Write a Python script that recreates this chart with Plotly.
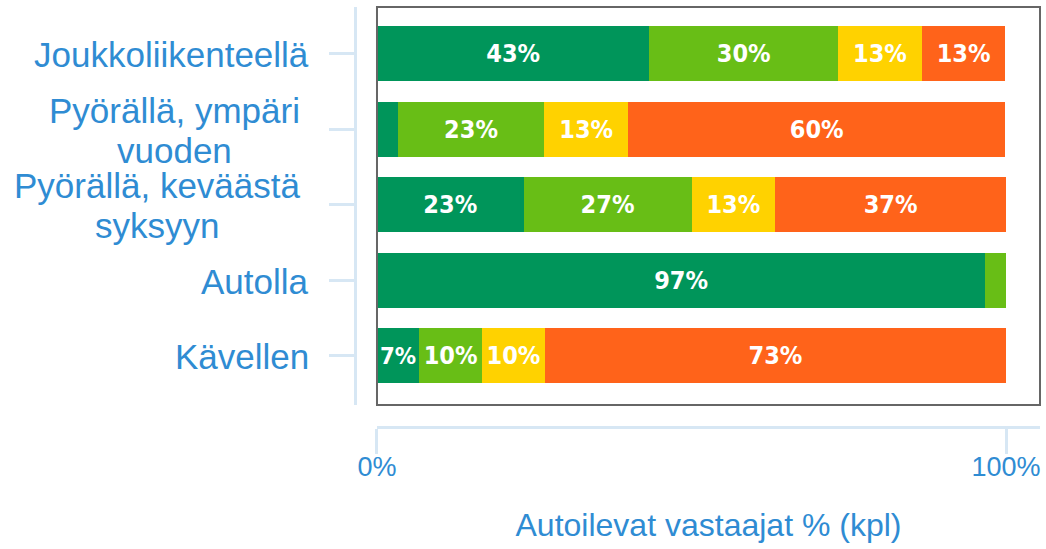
import plotly.graph_objects as go

categories = [
    "Joukkoliikenteellä",
    "Pyörällä, ympäri vuoden",
    "Pyörällä, keväästä syksyyn",
    "Autolla",
    "Kävellen",
]
# kategorian nimi riveittäin
category_lines = [
    ["Joukkoliikenteellä"],
    ["Pyörällä, ympäri", "vuoden"],
    ["Pyörällä, keväästä", "syksyyn"],
    ["Autolla"],
    ["Kävellen"],
]

# osuudet (%), n = 30
series_names = ["Aina", "Usein", "Joskus", "Ei koskaan"]
series_values = [
    [43.3, 3.3, 23.3, 96.7, 6.7],
    [30.0, 23.3, 26.7, 3.3, 10.0],
    [13.3, 13.3, 13.3, 0.0, 10.0],
    [13.3, 60.0, 36.7, 0.0, 73.3],
]
colors = ["#00955A", "#68BE16", "#FFD200", "#FF631A"]

x_tickvals = [0, 100]
x_ticktext = ["0%", "100%"]

label_color = "#2F8CD3"
line_color = "#D7E7F4"

fig = go.Figure()
for name, vals, color in zip(series_names, series_values, colors):
    fig.add_trace(go.Bar(
        y=categories,
        x=vals,
        name=name,
        orientation="h",
        width=0.73,
        marker=dict(color=color, line=dict(width=0)),
        text=[f"{v:.0f}%" if v >= 5 else "" for v in vals],
        textposition="inside",
        insidetextanchor="middle",
        textangle=0,
        textfont=dict(family="DejaVu Sans Condensed", size=25, color="white", weight="bold"),
        hoverinfo="x+y+name",
    ))

# kategorioiden nimet keskitettyinä riveinä (rivit erikseen, tiiviimpi riviväli)
line_gap = 40
center_shift = {"Pyörällä, ympäri vuoden": -134, "Pyörällä, keväästä syksyyn": -151}
for cat, lines in zip(categories, category_lines):
    n = len(lines)
    for i, line in enumerate(lines):
        fig.add_annotation(
            x=-0.0686, xref="paper", y=cat, yref="y",
            text=line, showarrow=False, xanchor="center" if n > 1 else "right",
            xshift=center_shift.get(cat, 3),
            yshift=((n - 1) / 2 - i) * line_gap - 1,
            font=dict(family="Liberation Sans, Arial", size=35, color=label_color),
        )

# kehys kuva-alueen ympärille
fig.add_shape(type="rect", xref="x domain", yref="y domain", x0=0, x1=1, y0=0, y1=1,
              line=dict(color="#666666", width=2), fillcolor="rgba(0,0,0,0)", layer="above")

fig.update_layout(
    width=1046,
    height=549,
    barmode="stack",
    showlegend=False,
    plot_bgcolor="white",
    paper_bgcolor="white",
    margin=dict(l=355, r=6, t=7, b=122, autoexpand=False),
    xaxis=dict(
        domain=[0.0321, 1],
        range=[0, 105.4],
        anchor="free",
        position=0,
        tickvals=x_tickvals,
        ticktext=x_ticktext,
        ticks="outside",
        ticklen=25,
        tickwidth=3,
        tickcolor=line_color,
        showline=True,
        linecolor=line_color,
        linewidth=3,
        showgrid=False,
        zeroline=False,
        ticklabelstandoff=-10,
        tickfont=dict(family="Liberation Sans, Arial", size=27, color=label_color),
        title=dict(text="Autoilevat vastaajat % (kpl)", standoff=32,
                   font=dict(family="Liberation Sans, Arial", size=32, color=label_color)),
    ),
    yaxis=dict(
        domain=[0.0524, 1],
        range=[4.65, -0.62],
        anchor="free",
        position=0,
        type="category",
        categoryorder="array",
        categoryarray=categories,
        showticklabels=False,
        ticks="outside",
        ticklen=25,
        tickwidth=3,
        tickcolor=line_color,
        showline=True,
        linecolor=line_color,
        linewidth=3,
        showgrid=False,
        zeroline=False,
    ),
)

fig.write_html("out.html", config={"displayModeBar": False},
               post_script="document.body.style.margin = '0';")
